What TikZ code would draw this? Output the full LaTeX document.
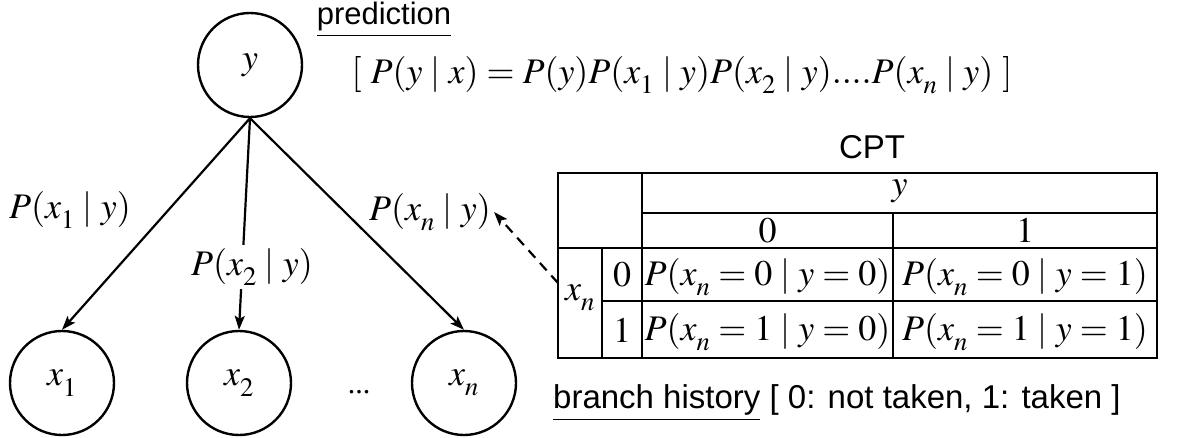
\documentclass[tikz,border=0pt]{standalone}
\usepackage{mathptmx}
\usepackage{fontspec}
\setmainfont{Liberation Serif}
\setsansfont{Liberation Sans}
\usetikzlibrary{arrows.meta}
\newcommand{\lsub}[1]{_{\raisebox{-5pt}{$\scriptstyle #1$}}}
\tikzset{
  circ/.style={circle, draw, line width=2.4pt, minimum size=104pt, inner sep=0pt, font=\fontsize{36}{40}\selectfont},
  lbl/.style={inner sep=3pt, font=\fontsize{36}{40}\selectfont},
  cell/.style={inner sep=0pt, font=\fontsize{36}{40}\selectfont},
  sans/.style={inner sep=0pt, font=\fontsize{33}{38}\selectfont\sffamily},
  edge/.style={line width=2.2pt, -{Stealth[length=14pt,width=10pt,inset=3pt]}},
  dedge/.style={line width=2.2pt, dash pattern=on 10pt off 7pt, -{Stealth[length=14pt,width=10pt,inset=3pt]}},
  tbl/.style={line width=2.4pt}
}
\begin{document}
\begin{tikzpicture}[x=1pt,y=-1pt]
\useasboundingbox (0,0) rectangle (1184,437);
% graph nodes
\node[circ] (y) at (250,65) {$y$};
\node[circ] (x1) at (62,383) {$x\lsub{1}$};
\node[circ] (x2) at (239,383) {$x\lsub{2}$};
\node[circ] (xn) at (464,383) {$x\lsub{n}$};
\node[inner sep=0pt, font=\fontsize{30}{34}\selectfont] (dots) at (359,392) {...};
% edges
\draw[edge] (y.south) -- (x1.north);
\draw[edge] (y.south) -- (x2.north);
\draw[edge] (y.south) -- (xn.north);
% labels
\node[lbl] (l1) at (70,210) {$P(x\lsub{1}\mid y)$};
\node[lbl, fill=white] (l2) at (252,267) {$P(x\lsub{2}\mid y)$};
\node[lbl] (ln) at (430,212) {$P(x\lsub{n}\mid y)$};
% headings
\node[sans, font=\fontsize{31}{36}\selectfont\sffamily] (pred) at (384,20) {\underline{prediction}};
\node[lbl] (formula) at (682,75) {$[\ P(y\mid x)=P(y)P(x\lsub{1}\mid y)P(x\lsub{2}\mid y)....P(x\lsub{n}\mid y)\ ]$};
\node[sans] (cpt) at (872,147) {CPT};
\node[sans, anchor=west] (hist) at (553,403) {\underline{branch history} [ 0: not taken, 1: taken ]};
% table
\draw[tbl] (558,173) rectangle (1157,358);
\draw[tbl] (642,173) -- (642,358);
\draw[tbl] (642,213) -- (1157,213);
\draw[tbl] (558,248) -- (1157,248);
\draw[tbl] (602,248) -- (602,358);
\draw[tbl] (602,301) -- (1157,301);
\draw[tbl] (893,213) -- (893,358);
\node[cell] (ty) at (899.5,191) {$y$};
\node[cell] (c0) at (767.5,230.5) {$0$};
\node[cell] (c1) at (1025,230.5) {$1$};
\node[cell] (rx) at (580,298) {$x\lsub{n}$};
\node[cell] (r0) at (622,275) {$0$};
\node[cell] (r1) at (622,330) {$1$};
\node[cell] (p00) at (767.5,277) {$P(x\lsub{n}=0\mid y=0)$};
\node[cell] (p01) at (1025,277) {$P(x\lsub{n}=0\mid y=1)$};
\node[cell] (p10) at (767.5,332) {$P(x\lsub{n}=1\mid y=0)$};
\node[cell] (p11) at (1025,332) {$P(x\lsub{n}=1\mid y=1)$};
% dashed link
\coordinate (dstart) at (558,283);
\draw[dedge] (dstart) -- (ln.east);
\end{tikzpicture}
\end{document}
